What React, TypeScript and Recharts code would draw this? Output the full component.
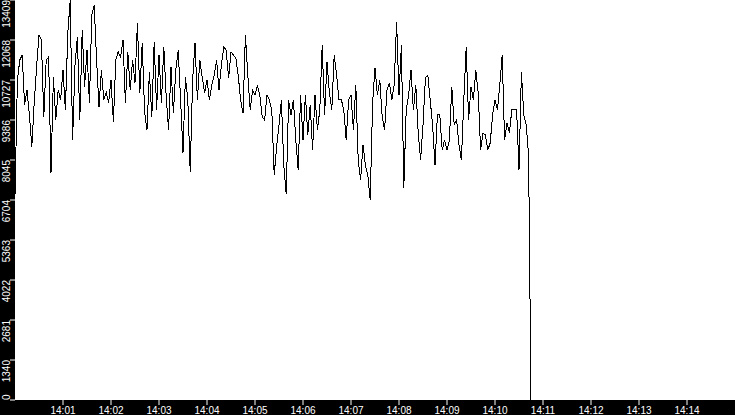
import { LineChart, Line, XAxis, YAxis, CartesianGrid } from 'recharts'

// one sample every 3 seconds, grouped per minute starting at 14:00
const sampleStep = 3

const min1400 = [6870, 10727, 11398, 11565, 9889, 10392, 9554, 8482, 9956, 11163, 12236, 12068, 9487, 11398, 11498, 7610, 10828, 9387, 10392, 10057]
const min1401 = [11063, 9722, 12303, 13400, 8716, 11230, 12169, 9387, 12403, 10493, 11733, 9956, 12906, 13241, 11398, 9822, 11063, 10057, 10325, 9956]
const min1402 = [10727, 9320, 11398, 11666, 11498, 12068, 9956, 11666, 10392, 11398, 10627, 12638, 10292, 11968, 9655, 9051, 10996, 9487, 12001, 9722]
const min1403 = [11565, 9956, 11834, 10158, 9051, 11163, 9621, 11063, 11733, 10057, 8280, 10828, 10057, 7644, 10727, 11968, 10057, 11398, 10828, 10292]
const min1404 = [10727, 10057, 10560, 10895, 11398, 10392, 11230, 11834, 11733, 10794, 11666, 11565, 11465, 10895, 10057, 9621, 12236, 10895, 9722, 10392]
const min1405 = [10225, 10560, 10225, 9487, 9387, 10225, 10057, 9722, 7543, 8482, 9219, 10057, 7878, 6905, 10057, 9554, 10057, 8716, 7711, 10225]
const min1406 = [8716, 10225, 8884, 9889, 8381, 10225, 9051, 9722, 11901, 9554, 11331, 10292, 9722, 11565, 10895, 10057, 10057, 9722, 8716, 10057]
const min1407 = [10225, 9051, 10560, 8046, 7375, 8549, 7878, 7543, 6705, 9956, 11130, 10225, 10727, 9487, 9051, 10392, 10627, 10057, 10560, 12672]
const min1408 = [10225, 11901, 7107, 9722, 10225, 11063, 9722, 10560, 8951, 8046, 9219, 10794, 10895, 10057, 9219, 7878, 9554, 9554, 8381, 8716]
const min1409 = [8381, 8716, 10493, 9219, 9387, 8549, 8046, 10057, 11834, 9387, 10493, 10057, 11063, 10292, 8381, 8951, 8884, 8381, 8616, 9554]
const min1410 = [10057, 9722, 10560, 11565, 8716, 9286, 8951, 9722, 9722, 9722, 7711, 10996, 9554, 9219, 8213, 0]

const minutes = [min1400, min1401, min1402, min1403, min1404, min1405, min1406, min1407, min1408, min1409, min1410]

const yTicks = [0, 1340, 2681, 4022, 5363, 6704, 8045, 9386, 10727, 12068, 13409]
const xTickLabels = ['14:01', '14:02', '14:03', '14:04', '14:05', '14:06', '14:07', '14:08', '14:09', '14:10', '14:11', '14:12', '14:13', '14:14']

const startLabel = '14:00'
const endLabel = '14:15'

const FONT = '"Liberation Sans", Arial, sans-serif'

const toSeconds = (label: string) => {
  const [h, m] = label.split(':').map(Number)
  return h * 3600 + m * 60
}

const t0 = toSeconds(startLabel)
const xTicks = xTickLabels.map((l) => toSeconds(l) - t0)
const labelFor = new Map(xTicks.map((s, i) => [s, xTickLabels[i]]))

const data = minutes.flatMap((vals, m) =>
  vals.map((v, j) => ({ t: m * 60 + j * sampleStep, value: v }))
)

function YTick(props: any) {
  const { x, y, payload } = props
  // labels hang below their tick, except the bottom one which must stay above the band
  const atBottom = payload.value === 0
  return (
    <text
      x={x}
      y={y}
      transform={`rotate(-90 ${x} ${y})`}
      textAnchor={atBottom ? 'start' : 'end'}
      fill="#fff"
      fontSize={10}
      fontFamily={FONT}
    >
      {payload.value}
    </text>
  )
}

export default function App() {
  return (
    <div style={{ position: 'absolute', left: 0, top: 0, width: 735, height: 415, background: '#000' }}>
      <style>{`.recharts-line-curve { shape-rendering: crispEdges; }`}</style>
      <LineChart width={735} height={415} data={data} margin={{ top: 0, right: 0, left: 0, bottom: 0 }}>
        <CartesianGrid fill="#fff" stroke="none" horizontal={false} vertical={false} />
        <XAxis
          dataKey="t"
          type="number"
          domain={[0, toSeconds(endLabel) - t0]}
          ticks={xTicks}
          tickFormatter={(s: number) => labelFor.get(s) ?? ''}
          height={15}
          axisLine={false}
          tickLine={{ stroke: '#fff' }}
          tickSize={5}
          tickMargin={2}
          tick={{ fill: '#fff', fontSize: 10, fontFamily: FONT }}
          interval={0}
        />
        <YAxis
          type="number"
          domain={[0, 13409]}
          ticks={yTicks}
          width={15}
          axisLine={false}
          tickLine={{ stroke: '#fff' }}
          tickSize={5}
          tickMargin={0}
          tick={<YTick />}
          interval={0}
        />
        <Line
          type="linear"
          dataKey="value"
          stroke="#000"
          strokeWidth={1}
          dot={false}
          activeDot={false}
          isAnimationActive={false}
        />
      </LineChart>
    </div>
  )
}
